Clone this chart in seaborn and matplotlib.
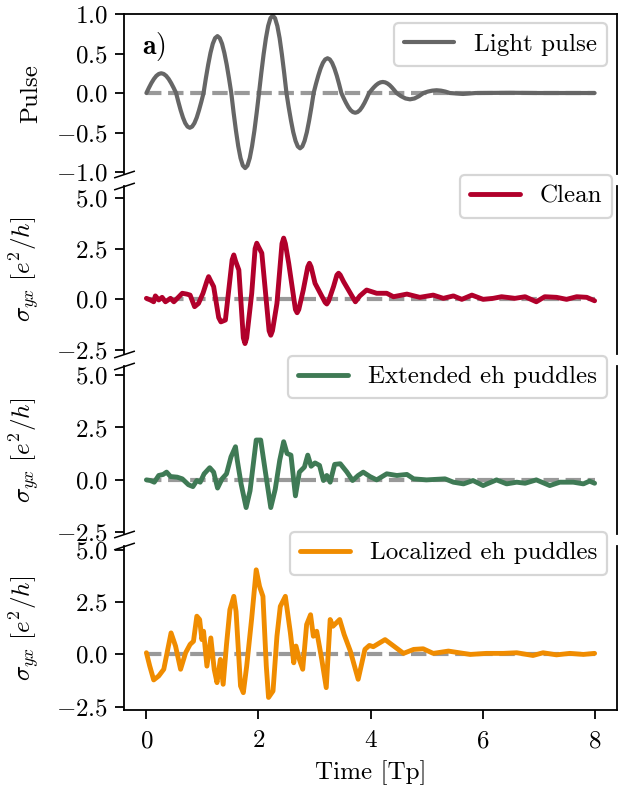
import matplotlib
matplotlib.use("Agg")
import matplotlib.pyplot as plt
import matplotlib.ticker as mticker
import seaborn as sns

# light pulse
pulse_t = [0.000, 0.044, 0.088, 0.133, 0.177, 0.221, 0.265, 0.309, 0.353, 0.398, 0.442, 0.486,
           0.530, 0.571, 0.612, 0.653, 0.693, 0.734, 0.775, 0.816, 0.857, 0.898, 0.938, 0.979,
           1.020, 1.061, 1.103, 1.144, 1.185, 1.226, 1.268, 1.309, 1.350, 1.391, 1.433, 1.474,
           1.515, 1.556, 1.598, 1.639, 1.680, 1.721, 1.763, 1.804, 1.845, 1.886, 1.928, 1.969,
           2.010, 2.051, 2.092, 2.133, 2.173, 2.214, 2.255, 2.296, 2.337, 2.378, 2.418, 2.459,
           2.500, 2.540, 2.581, 2.621, 2.662, 2.702, 2.743, 2.783, 2.823, 2.864, 2.904, 2.945,
           2.985, 3.026, 3.068, 3.109, 3.150, 3.191, 3.233, 3.274, 3.315, 3.356, 3.398, 3.439,
           3.480, 3.521, 3.563, 3.604, 3.645, 3.686, 3.728, 3.769, 3.810, 3.851, 3.893, 3.934,
           3.975, 4.016, 4.057, 4.098, 4.138, 4.179, 4.220, 4.261, 4.302, 4.343, 4.383, 4.424,
           4.465, 4.545, 4.625, 4.705, 4.785, 4.865,
           4.945, 5.023, 5.102, 5.180, 5.258, 5.337,
           5.415, 5.650, 5.880, 6.5, 7.0, 7.5, 8.0]
pulse_v = [0.0, 0.065, 0.125, 0.177, 0.217, 0.241, 0.25, 0.241, 0.217, 0.177, 0.125, 0.065,
           0.0, -0.114, -0.22, -0.311, -0.381, -0.425, -0.44, -0.425, -0.381, -0.311, -0.22, -0.114,
           0.0, 0.186, 0.36, 0.509, 0.624, 0.695, 0.72, 0.695, 0.624, 0.509, 0.36, 0.186,
           0.0, -0.246, -0.475, -0.672, -0.823, -0.918, -0.95, -0.918, -0.823, -0.672, -0.475, -0.246,
           0.0, 0.254, 0.49, 0.693, 0.849, 0.947, 0.98, 0.947, 0.849, 0.693, 0.49, 0.254,
           0.0, -0.181, -0.35, -0.495, -0.606, -0.676, -0.70, -0.676, -0.606, -0.495, -0.35, -0.181,
           0.0, 0.114, 0.22, 0.311, 0.381, 0.425, 0.44, 0.425, 0.381, 0.311, 0.22, 0.114,
           0.0, -0.065, -0.125, -0.177, -0.217, -0.241, -0.25, -0.241, -0.217, -0.177, -0.125, -0.065,
           0.0, 0.036, 0.07, 0.099, 0.121, 0.135, 0.14, 0.135, 0.121, 0.099, 0.07, 0.036,
           0.0, -0.04, -0.069, -0.08, -0.069, -0.04,
           0.0, 0.018, 0.03, 0.035, 0.03, 0.018,
           0.0, -0.012, 0.0, 0.003, 0.0, 0.0, 0.0]

clean_t = [0.0, 0.07, 0.13, 0.16, 0.22, 0.28, 0.34, 0.43, 0.49, 0.58, 0.64, 0.72,
           0.78, 0.86, 0.93, 1.01, 1.08, 1.11, 1.14, 1.20, 1.29, 1.33, 1.41, 1.53,
           1.56, 1.59, 1.65, 1.73, 1.76, 1.79, 1.88, 1.94, 1.97, 2.00, 2.06, 2.19,
           2.22, 2.25, 2.33, 2.42, 2.45, 2.48, 2.54, 2.66, 2.69, 2.72, 2.80, 2.88,
           2.91, 2.94, 3.01, 3.19, 3.22, 3.25, 3.34, 3.40, 3.43, 3.46, 3.52, 3.73,
           3.81, 3.93, 4.11, 4.29, 4.41, 4.65, 4.88, 5.12, 5.30, 5.48, 5.63, 5.81,
           6.01, 6.19, 6.34, 6.58, 6.76, 6.96, 7.11, 7.32, 7.50, 7.68, 7.86, 8.0]
clean_v = [0.05, -0.03, -0.12, 0.17, -0.03, 0.10, -0.12, 0.05, -0.12, 0.13, 0.30, 0.26,
           0.21, -0.36, -0.20, 0.30, 0.90, 1.12, 0.95, 0.63, -0.90, -1.11, -1.02, 1.95,
           2.19, 1.90, 1.45, -1.90, -2.18, -1.90, 0.30, 2.50, 2.77, 2.60, 2.28, -1.55,
           -1.77, -1.55, -0.20, 2.75, 3.02, 2.75, 1.78, -0.50, -0.66, -0.50, 0.46, 1.60,
           1.78, 1.60, 0.79, -0.15, -0.23, -0.10, 0.63, 1.20, 1.29, 1.20, 0.87, -0.12,
           0.17, 0.46, 0.30, 0.30, 0.13, 0.26, 0.10, 0.21, 0.05, 0.17, 0.0, 0.21,
           0.0, 0.05, 0.13, 0.05, 0.13, -0.12, 0.13, 0.10, 0.0, 0.13, 0.10, -0.07]

ext_t = [0.0, 0.07, 0.14, 0.22, 0.30, 0.36, 0.43, 0.55, 0.64, 0.75, 0.83, 0.90,
         0.96, 1.03, 1.13, 1.20, 1.27, 1.35, 1.43, 1.51, 1.59, 1.62, 1.69, 1.78,
         1.85, 1.96, 2.04, 2.12, 2.22, 2.30, 2.38, 2.45, 2.51, 2.58, 2.66, 2.73,
         2.82, 2.88, 2.94, 3.01, 3.09, 3.16, 3.22, 3.28, 3.36, 3.46, 3.58, 3.68,
         3.78, 3.87, 3.99, 4.11, 4.29, 4.47, 4.65, 4.77, 5.00, 5.33, 5.48, 5.66,
         5.83, 6.01, 6.25, 6.43, 6.61, 6.76, 6.96, 7.20, 7.38, 7.62, 7.80, 7.91, 8.0]
ext_v = [0.0, -0.03, -0.11, 0.21, 0.26, 0.37, 0.16, 0.13, 0.05, -0.23, -0.32, -0.03,
         -0.11, 0.29, 0.58, 0.37, -0.39, 0.05, 0.29, 1.10, 1.58, 0.97, -0.19, -1.32,
         -0.52, 1.90, 1.90, 0.45, -1.32, -0.44, 0.94, 1.82, 1.26, 1.18, -0.76, 0.37,
         0.61, 1.18, 0.65, 0.81, 0.69, -0.03, 0.21, -0.11, 0.74, 0.77, 0.37, -0.03,
         0.21, 0.37, 0.16, 0.0, 0.29, 0.21, 0.26, 0.05, 0.0, 0.05, -0.11, -0.19,
         -0.03, -0.27, 0.0, -0.19, -0.11, -0.16, 0.0, -0.27, -0.11, -0.11, -0.19, -0.06, -0.16]

loc_t = [0.0, 0.06, 0.13, 0.22, 0.31, 0.44, 0.52, 0.61, 0.70, 0.78, 0.84, 0.90,
         0.95, 0.99, 1.02, 1.08, 1.15, 1.21, 1.26, 1.32, 1.37, 1.43, 1.49, 1.56,
         1.60, 1.68, 1.73, 1.79, 1.88, 1.96, 2.02, 2.08, 2.14, 2.18, 2.26, 2.33,
         2.39, 2.48, 2.57, 2.63, 2.67, 2.73, 2.79, 2.86, 2.93, 2.98, 3.04, 3.13,
         3.21, 3.28, 3.33, 3.45, 3.53, 3.64, 3.78, 3.90, 3.98, 4.05, 4.26, 4.59,
         4.77, 4.94, 5.12, 5.39, 5.78, 6.07, 6.37, 6.61, 6.90, 7.08, 7.32, 7.56, 7.80, 8.0]
loc_v = [0.08, -0.56, -1.22, -1.03, -0.71, 1.03, 0.40, -0.71, 0.08, 0.48, 0.63, 1.83,
         1.67, 0.71, 1.11, -0.56, 0.79, -0.71, -1.35, -0.24, -1.43, 0.48, 2.14, 2.78,
         2.06, -1.51, -1.83, -0.56, 1.75, 4.05, 3.25, 2.78, -0.56, -2.06, -1.75, 0.87,
         2.30, 2.78, 1.03, -0.40, 0.40, -0.24, -0.71, 1.43, 1.90, 0.87, 1.11, -0.24,
         -1.59, 1.67, 1.35, 1.67, 0.95, 0.16, -1.19, 0.24, 0.43, 0.37, 0.71, 0.05,
         0.24, 0.27, 0.05, 0.16, 0.0, 0.05, 0.05, 0.08, -0.05, 0.08, -0.02, 0.05, 0.0, 0.05]

names = ["Light pulse", "Clean", "Extended eh puddles", "Localized eh puddles"]
colors = ["#666666", "#b1002b", "#3f7a55", "#f08c00"]
series = [(pulse_t, pulse_v), (clean_t, clean_v), (ext_t, ext_v), (loc_t, loc_v)]

sns.set_style("ticks")
plt.rcParams["font.family"] = ["cmr10"]
plt.rcParams["mathtext.fontset"] = "cm"
plt.rcParams["axes.formatter.use_mathtext"] = True
plt.rcParams["font.size"] = 18
for k in ["axes.edgecolor", "text.color", "axes.labelcolor", "xtick.color", "ytick.color"]:
    plt.rcParams[k] = "black"


def tick_fmt(x, pos):
    # minus as an ordinary atom so mathtext adds no operator spacing
    if x < 0:
        return r"$\mathdefault{{-}%.1f}$" % -x
    return r"$\mathdefault{%.1f}$" % x


W, H = 623, 789
fig = plt.figure(figsize=(W / 100, H / 100), dpi=100)

# panel extents in pixels (top, bottom) and y-limits
bounds = [(14, 174), (186, 353.5), (366, 534), (546, 710)]
ylims = [(-1.025, 1.0), (-2.67, 5.59), (-2.58, 5.43), (-2.66, 5.19)]
leg_pos = [(607, 23), (612, 175), (607, 356), (607, 532)]

slash = dict(marker=[(-1, -0.33), (1, 0.33)], markersize=15, linestyle="none",
             color="k", mec="k", mew=1.1, clip_on=False)

for i, (t, v) in enumerate(series):
    top, bot = bounds[i]
    ax = fig.add_axes([124 / W, 1 - bot / H, 493 / W, (bot - top) / H])
    sns.lineplot(x=[0, 8], y=[0, 0], ax=ax, color="#999999", lw=3, linestyle="--")
    sns.lineplot(x=t, y=v, ax=ax, color=colors[i], lw=3.5 if i else 3,
                 label=names[i], estimator=None, sort=False)
    ax.set_xlim(-0.4, 8.4)
    ax.set_ylim(*ylims[i])
    if i == 0:
        ax.set_yticks([-1, -0.5, 0, 0.5, 1])
        ax.set_ylabel("Pulse")
        ax.text(0.036, 0.9, r"$\mathbf{a)}$", transform=ax.transAxes, va="top", fontsize=20)
    else:
        ax.set_yticks([-2.5, 0, 2.5, 5])
        ax.set_ylabel(r"$\sigma_{yx}\ [e^2/h]$")
    ax.yaxis.set_major_formatter(mticker.FuncFormatter(tick_fmt))
    ax.yaxis.set_label_coords(-0.166, 0.5)
    for s in ax.spines.values():
        s.set_linewidth(1.3)
    ax.spines["top"].set_visible(i == 0)
    ax.spines["bottom"].set_visible(i == 3)
    ax.tick_params(axis="y", length=6.5, width=1.3, pad=5, labelsize=18)
    ax.tick_params(axis="x", length=6.5, width=1.3, pad=8, labelsize=18)
    if i < 3:
        ax.tick_params(axis="x", bottom=False, labelbottom=False)
        ax.plot([0], [0], transform=ax.transAxes, **slash)
    else:
        ax.set_xticks([0, 2, 4, 6, 8])
        ax.set_xlabel("Time [Tp]", labelpad=6)
    if i > 0:
        ax.plot([0], [1], transform=ax.transAxes, **slash)
    lx, ly = leg_pos[i]
    leg = ax.legend(loc="upper right", bbox_to_anchor=(lx / W, 1 - ly / H),
                    bbox_transform=fig.transFigure, borderaxespad=0, fontsize=18)
    leg.get_frame().set_linewidth(1.6)
    leg.get_frame().set_edgecolor("#cccccc")

fig.savefig("out.png", dpi=100)
